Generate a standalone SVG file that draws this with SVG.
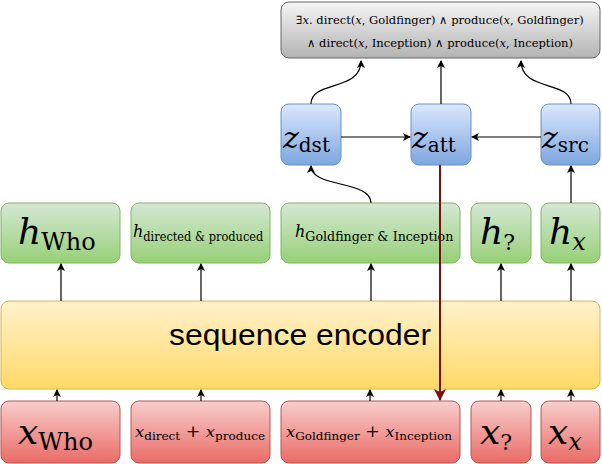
<svg xmlns="http://www.w3.org/2000/svg" width="602" height="464" viewBox="0 0 602 464">
<style>
text{font-family:"DejaVu Serif","Liberation Serif",serif;fill:#000}
.i{font-style:italic}
.g{fill:url(#gg);stroke:#82b366}
.r{fill:url(#gr);stroke:#b85450}
.b{fill:url(#gb);stroke:#6c8ebf}
.c{fill:none;stroke:#000;stroke-width:1.2}
</style>
<defs>
<linearGradient id="gg" x1="0" y1="0" x2="0" y2="1"><stop offset="0" stop-color="#d5e8d4"/><stop offset="1" stop-color="#97d077"/></linearGradient>
<linearGradient id="gr" x1="0" y1="0" x2="0" y2="1"><stop offset="0" stop-color="#f8cecc"/><stop offset="1" stop-color="#ea6b66"/></linearGradient>
<linearGradient id="gb" x1="0" y1="0" x2="0" y2="1"><stop offset="0" stop-color="#dae8fc"/><stop offset="1" stop-color="#7ea6e0"/></linearGradient>
<linearGradient id="gy" x1="0" y1="0" x2="0" y2="1"><stop offset="0" stop-color="#fff2cc"/><stop offset="1" stop-color="#ffd966"/></linearGradient>
<linearGradient id="gs" x1="0" y1="0" x2="0" y2="1"><stop offset="0" stop-color="#f5f5f5"/><stop offset="1" stop-color="#b3b3b3"/></linearGradient>
<marker id="a" markerWidth="8" markerHeight="8" refX="7" refY="4" orient="auto" markerUnits="userSpaceOnUse"><path d="M0,0L8,4L0,8L2,4z" fill="#000"/></marker>
<marker id="ar" markerWidth="12" markerHeight="12" refX="11" refY="6" orient="auto" markerUnits="userSpaceOnUse"><path d="M0,0L12,6L0,12L3,6z" fill="#7b1010"/></marker>
</defs>
<g id="logic"><rect x="281" y="2" width="319" height="56" rx="8" fill="url(#gs)" stroke="#666"/>
<text x="440" y="24" font-size="11.5" text-anchor="middle">∃<tspan class="i">x</tspan>. direct(<tspan class="i">x</tspan>, Goldfinger) ∧ produce(<tspan class="i">x</tspan>, Goldfinger)</text>
<text x="440" y="47" font-size="11.5" text-anchor="middle">∧ direct(<tspan class="i">x</tspan>, Inception) ∧ produce(<tspan class="i">x</tspan>, Inception)</text></g>
<g id="zdst"><rect class="b" x="281" y="104" width="60" height="61" rx="8"/><text x="283" y="148" font-size="30" class="i">z<tspan font-style="normal" font-size="20" dy="4">dst</tspan></text></g>
<g id="zatt"><rect class="b" x="411" y="104" width="60" height="61" rx="8"/><text x="412" y="148" font-size="30" class="i">z<tspan font-style="normal" font-size="20" dy="4">att</tspan></text></g>
<g id="zsrc"><rect class="b" x="541" y="104" width="59" height="61" rx="8"/><text x="542" y="148" font-size="30" class="i">z<tspan font-style="normal" font-size="20" dy="4">src</tspan></text></g>
<g id="hwho"><rect class="g" x="1" y="203" width="119" height="60" rx="8"/><text x="18" y="244" font-size="36" class="i">h<tspan font-style="normal" font-size="24" dy="6">Who</tspan></text></g>
<g id="hdp"><rect class="g" x="131" y="203" width="139" height="60" rx="8"/><text x="133" y="237" font-size="16" class="i">h<tspan font-style="normal" font-size="12" dy="4" textLength="120" lengthAdjust="spacingAndGlyphs">directed &amp; produced</tspan></text></g>
<g id="hgi"><rect class="g" x="281" y="203" width="179" height="60" rx="8"/><text x="295" y="237" font-size="16" class="i">h<tspan font-style="normal" font-size="12" dy="4" textLength="148" lengthAdjust="spacingAndGlyphs">Goldfinger &amp; Inception</tspan></text></g>
<g id="hq"><rect class="g" x="471" y="203" width="60" height="60" rx="8"/><text x="480" y="244" font-size="36" class="i">h<tspan font-style="normal" font-size="22" dy="6">?</tspan></text></g>
<g id="hx"><rect class="g" x="541" y="203" width="59" height="60" rx="8"/><text x="549" y="244" font-size="36" class="i">h<tspan font-size="24" dy="6">x</tspan></text></g>
<g id="enc"><rect x="1" y="301" width="599" height="88" rx="8" fill="url(#gy)" stroke="#d6b656"/><text x="300" y="345" font-size="30" text-anchor="middle" textLength="262" lengthAdjust="spacingAndGlyphs" style="font-family:'Liberation Sans',Arial,sans-serif">sequence encoder</text></g>
<g id="xwho"><rect class="r" x="1" y="401" width="119" height="62" rx="8"/><text x="18" y="444" font-size="36" class="i">x<tspan font-style="normal" font-size="24" dy="6">Who</tspan></text></g>
<g id="xdp"><rect class="r" x="131" y="401" width="139" height="62" rx="8"/><text x="135" y="437" font-size="15" class="i" textLength="130" lengthAdjust="spacingAndGlyphs">x<tspan font-style="normal" font-size="11" dy="3">direct</tspan><tspan font-style="normal" font-size="16" dy="-3"> + </tspan>x<tspan font-style="normal" font-size="11" dy="3">produce</tspan></text></g>
<g id="xgi"><rect class="r" x="281" y="401" width="179" height="62" rx="8"/><text x="286" y="437" font-size="15" class="i" textLength="166" lengthAdjust="spacingAndGlyphs">x<tspan font-style="normal" font-size="11" dy="3">Goldfinger</tspan><tspan font-style="normal" font-size="16" dy="-3"> + </tspan>x<tspan font-style="normal" font-size="11" dy="3">Inception</tspan></text></g>
<g id="xq"><rect class="r" x="471" y="401" width="60" height="62" rx="8"/><text x="480" y="444" font-size="36" class="i">x<tspan font-style="normal" font-size="22" dy="6">?</tspan></text></g>
<g id="xx"><rect class="r" x="541" y="401" width="59" height="62" rx="8"/><text x="548" y="444" font-size="36" class="i">x<tspan font-size="24" dy="6">x</tspan></text></g>
<g id="connectors">
<path class="c" marker-end="url(#a)" d="M311,104C311,80 361,92 361,61"/>
<path class="c" marker-end="url(#a)" d="M441,104L441,61"/>
<path class="c" marker-end="url(#a)" d="M571,104C571,80 521,92 521,61"/>
<path class="c" marker-end="url(#a)" d="M341,137L410,137"/>
<path class="c" marker-end="url(#a)" d="M541,137L472,137"/>
<path class="c" marker-end="url(#a)" d="M371,203C371,180 311,188 311,166"/>
<path class="c" marker-end="url(#a)" d="M571,203L571,166"/>
<path class="c" marker-end="url(#a)" d="M61,301L61,264"/>
<path class="c" marker-end="url(#a)" d="M201,301L201,264"/>
<path class="c" marker-end="url(#a)" d="M371,301L371,264"/>
<path class="c" marker-end="url(#a)" d="M501,301L501,264"/>
<path class="c" marker-end="url(#a)" d="M571,301L571,264"/>
<path class="c" marker-end="url(#a)" d="M57,401L57,390"/>
<path class="c" marker-end="url(#a)" d="M201,401L201,390"/>
<path class="c" marker-end="url(#a)" d="M370,401L370,390"/>
<path class="c" marker-end="url(#a)" d="M501,401L501,390"/>
<path class="c" marker-end="url(#a)" d="M571,401L571,390"/>
<path d="M440,165L440,400" fill="none" stroke="#7b1010" stroke-width="2" marker-end="url(#ar)"/>
</g>
</svg>
